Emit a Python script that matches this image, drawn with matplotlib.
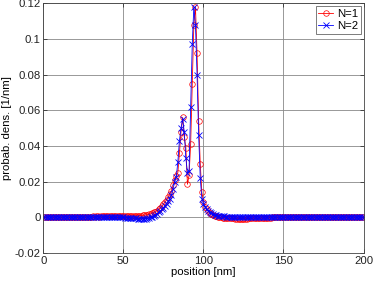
import numpy as np
import matplotlib
matplotlib.use('Agg')
import matplotlib.pyplot as plt
from matplotlib.ticker import FormatStrFormatter

# position grid [nm], one sample per nm
position = np.arange(0, 201)

# N=1 (red circles)
dens_n1 = [
    0.0002, 0.0003, 0.0002, 0.0002, 0.0003, 0.0002, 0.0003, 0.0002, 0.0002, 0.0003,
    0.0002, 0.0003, 0.0003, 0.0002, 0.0003, 0.0002, 0.0003, 0.0003, 0.0002, 0.0003,
    0.0003, 0.0004, 0.0003, 0.0004, 0.0003, 0.0004, 0.0004, 0.0003, 0.0004, 0.0004,
    0.0004, 0.0005, 0.0004, 0.0005, 0.0005, 0.0004, 0.0005, 0.0005, 0.0006, 0.0005,
    0.0006, 0.0006, 0.0006, 0.0006, 0.0007, 0.0007, 0.0007, 0.0007, 0.0007, 0.0008,
    0.0008, 0.0008, 0.0008, 0.0008, 0.0008, 0.0009, 0.0008, 0.0009, 0.0009, 0.0009,
    0.0010, 0.0010, 0.0011, 0.0012, 0.0013, 0.0015, 0.0017, 0.0020, 0.0023, 0.0027,
    0.0032, 0.0038, 0.0045, 0.0053, 0.0062, 0.0073, 0.0085, 0.0098, 0.0113, 0.0130,
    0.0150, 0.0180, 0.0210, 0.0230, 0.0250, 0.0360, 0.0480, 0.0560, 0.0450, 0.0390,
    0.0185, 0.0235, 0.0410, 0.0745, 0.1080, 0.1180, 0.0920, 0.0540, 0.0300, 0.0140,
    0.0086, 0.0060, 0.0045, 0.0034, 0.0026, 0.0020, 0.0014, 0.0010, 0.0006, 0.0003,
    0.0001, -0.0001, -0.0002, -0.0003, -0.0004, -0.0004, -0.0005, -0.0005, -0.0006, -0.0006,
    -0.0007, -0.0007, -0.0007, -0.0008, -0.0007, -0.0008, -0.0007, -0.0007, -0.0006, -0.0006,
    -0.0006, -0.0005, -0.0005, -0.0005, -0.0004, -0.0004, -0.0004, -0.0003, -0.0003, -0.0003,
    -0.0002, -0.0002, -0.0002, -0.0001, -0.0001, -0.0001, 0.0000, 0.0000, 0.0000, 0.0001,
    0.0001, 0.0001, 0.0000, 0.0001, 0.0001, 0.0002, 0.0001, 0.0001, 0.0002, 0.0001,
    0.0002, 0.0001, 0.0002, 0.0002, 0.0001, 0.0002, 0.0002, 0.0001, 0.0002, 0.0002,
    0.0002, 0.0001, 0.0002, 0.0002, 0.0002, 0.0001, 0.0002, 0.0002, 0.0001, 0.0002,
    0.0002, 0.0002, 0.0001, 0.0002, 0.0002, 0.0001, 0.0002, 0.0002, 0.0002, 0.0001,
    0.0002, 0.0002, 0.0001, 0.0002, 0.0002, 0.0002, 0.0001, 0.0002, 0.0002, 0.0001,
    0.0002,
]

# N=2 (blue crosses)
dens_n2 = [
    0.0001, 0.0000, 0.0001, 0.0000, 0.0001, 0.0000, 0.0001, 0.0001, 0.0000, 0.0001,
    0.0000, 0.0001, 0.0000, 0.0001, 0.0001, 0.0000, 0.0001, 0.0000, 0.0001, 0.0000,
    0.0001, 0.0000, 0.0001, 0.0001, 0.0000, 0.0001, 0.0000, 0.0001, 0.0000, 0.0000,
    0.0001, 0.0000, 0.0000, 0.0001, 0.0000, 0.0000, 0.0001, 0.0000, 0.0000, 0.0000,
    0.0000, 0.0000, -0.0001, 0.0000, 0.0000, -0.0001, 0.0000, -0.0001, -0.0001, -0.0001,
    -0.0001, -0.0002, -0.0002, -0.0003, -0.0003, -0.0004, -0.0005, -0.0005, -0.0006, -0.0007,
    -0.0007, -0.0008, -0.0008, -0.0008, -0.0007, -0.0006, -0.0004, -0.0001, 0.0003, 0.0008,
    0.0014, 0.0020, 0.0027, 0.0035, 0.0044, 0.0054, 0.0065, 0.0077, 0.0090, 0.0105,
    0.0125, 0.0160, 0.0195, 0.0225, 0.0310, 0.0430, 0.0500, 0.0550, 0.0480, 0.0330,
    0.0250, 0.0260, 0.0620, 0.0970, 0.1180, 0.1080, 0.0800, 0.0460, 0.0220, 0.0105,
    0.0075, 0.0058, 0.0046, 0.0037, 0.0030, 0.0024, 0.0019, 0.0015, 0.0012, 0.0010,
    0.0008, 0.0007, 0.0006, 0.0005, 0.0004, 0.0004, 0.0003, 0.0003, 0.0002, 0.0002,
    0.0002, 0.0001, 0.0002, 0.0001, 0.0001, 0.0002, 0.0001, 0.0001, 0.0001, 0.0002,
    0.0001, 0.0001, 0.0001, 0.0002, 0.0001, 0.0001, 0.0002, 0.0001, 0.0001, 0.0001,
    0.0002, 0.0001, 0.0001, 0.0001, 0.0002, 0.0001, 0.0001, 0.0001, 0.0001, 0.0002,
    0.0001, 0.0001, 0.0001, 0.0001, 0.0001, 0.0002, 0.0001, 0.0001, 0.0001, 0.0001,
    0.0001, 0.0001, 0.0002, 0.0001, 0.0001, 0.0001, 0.0001, 0.0001, 0.0001, 0.0002,
    0.0001, 0.0001, 0.0001, 0.0001, 0.0001, 0.0001, 0.0002, 0.0001, 0.0001, 0.0001,
    0.0001, 0.0001, 0.0001, 0.0001, 0.0002, 0.0001, 0.0001, 0.0001, 0.0001, 0.0001,
    0.0001, 0.0001, 0.0001, 0.0002, 0.0001, 0.0001, 0.0001, 0.0001, 0.0001, 0.0001,
    0.0001,
]

x_ticks = [0, 50, 100, 150, 200]
y_ticks = [-0.02, 0, 0.02, 0.04, 0.06, 0.08, 0.1, 0.12]


def main():
    plt.rcParams['font.family'] = ['Liberation Sans', 'DejaVu Sans']
    plt.rcParams['font.size'] = 8.2

    fig = plt.figure(figsize=(3.74, 2.83), dpi=100)
    ax = fig.add_axes([0.116, 0.106, 0.856, 0.883])

    ax.plot(position, dens_n1, color='red', linewidth=0.6, marker='o',
            markersize=4, markerfacecolor='none', markeredgewidth=0.5,
            label='N=1')
    ax.plot(position, dens_n2, color='blue', linewidth=0.6, marker='x',
            markersize=4, markeredgewidth=0.6, label='N=2')

    ax.set_xlim(0, 200)
    ax.set_ylim(-0.02, 0.12)
    ax.set_xticks(x_ticks)
    ax.set_yticks(y_ticks)
    ax.yaxis.set_major_formatter(FormatStrFormatter('%g'))
    ax.tick_params(direction='in', length=3, width=0.5, colors='#222222',
                   top=True, right=True, pad=2)
    ax.grid(True, color='#888888', linewidth=0.6)
    for s in ax.spines.values():
        s.set_linewidth(0.6)
        s.set_color('#444444')

    ax.set_xlabel('position [nm]', labelpad=1)
    ax.set_ylabel('probab. dens. [1/nm]', labelpad=2)

    leg = ax.legend(loc='upper right', fancybox=False, borderaxespad=0.25,
                    handlelength=1.3, handletextpad=0.3, borderpad=0.25,
                    labelspacing=0.2, framealpha=1)
    leg.get_frame().set_edgecolor('#666666')
    leg.get_frame().set_linewidth(0.6)

    fig.savefig('out.png', dpi=100)


if __name__ == '__main__':
    main()
